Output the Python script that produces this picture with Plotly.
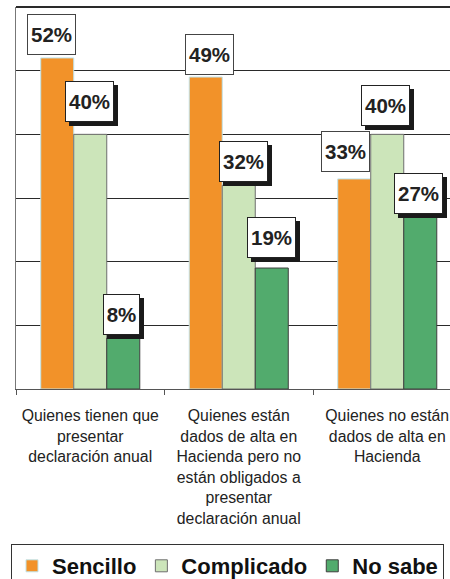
import plotly.graph_objects as go

categories = [
    "Quienes tienen que<br>presentar<br>declaración anual",
    "Quienes están<br>dados de alta en<br>Hacienda pero no<br>están obligados a<br>presentar<br>declaración anual",
    "Quienes no están<br>dados de alta en<br>Hacienda",
]
series_names = ["Sencillo", "Complicado", "No sabe"]
sencillo = [52, 49, 33]
complicado = [40, 32, 40]
no_sabe = [8, 19, 27]

colors = ["#F29229", "#CCE5BA", "#52AB6D"]
line_colors = ["#BFE3EA", "#6E6E6E", "#3F3F3F"]
shadow_flags = [False, True, True]
# per-label pixel nudges (dx, gap above bar top)
nudges = [
    [(-5.5, 3), (4, 2), (-8.5, 6.5)],
    [(-0.5, 12), (4.5, 3), (-1.5, 8)],
    [(-1.5, 3), (-0.5, 10), (-1.5, 3.5)],
]

values = [sencillo, complicado, no_sabe]
x_idx = list(range(len(categories)))

fig = go.Figure()
for s, name in enumerate(series_names):
    fig.add_trace(go.Bar(
        x=categories, y=values[s], name=name,
        marker=dict(color=colors[s], line=dict(color=line_colors[s], width=1)),
    ))

bar_w = (1 - 0.333) / 3
lab_font = "Liberation Sans, Arial"
annotations = []
for s in range(3):
    for c in x_idx:
        v = values[s][c]
        txt = f"{v}%"
        w = 12 * len(txt) + 11
        dx, gap = nudges[s][c]
        xpos = c + (s - 1) * bar_w
        common = dict(x=xpos, y=v, xref="x", yref="y", showarrow=False,
                      yanchor="bottom", xanchor="center", width=w, height=39,
                      borderpad=0, borderwidth=1)
        if shadow_flags[s]:
            sh = dict(common)
            sh.update(text=f"<b>{txt}</b>", bgcolor="#1a1a1a", bordercolor="#1a1a1a",
                      xshift=dx + 4, yshift=gap - 4,
                      font=dict(family=lab_font, size=20.5, color="#1a1a1a"))
            annotations.append(sh)
        bx = dict(common)
        bx.update(text=f"<b>{txt}</b>", bgcolor="white",
                  bordercolor="#222222" if shadow_flags[s] else "#444444",
                  xshift=dx, yshift=gap,
                  font=dict(family=lab_font, size=20.5, color="#222222"))
        annotations.append(bx)

plot_w = 450 - 16
cat_px = 148.5
fig.update_layout(
    width=450, height=579,
    margin=dict(l=16, r=0, t=7, b=190),
    paper_bgcolor="white", plot_bgcolor="white",
    barmode="group", bargap=0.333, bargroupgap=0,
    font=dict(family=lab_font, color="#222222"),
    annotations=annotations,
    shapes=[dict(type="line", xref="paper", yref="paper", x0=0, x1=1, y0=1, y1=1,
                 line=dict(color="#2a2a2a", width=2), layer="above")],
    showlegend=True,
    legend=dict(
        orientation="h", xref="container", yref="container",
        x=11 / 450, xanchor="left", y=1 - 544 / 579, yanchor="top",
        bordercolor="#333333", borderwidth=1, bgcolor="white",
        font=dict(family=lab_font, size=22, color="#111111", weight="bold"),
        itemwidth=30, tracegroupgap=0,
    ),
    xaxis=dict(
        type="category", range=[-0.5, -0.5 + plot_w / cat_px],
        showline=True, linecolor="#555555", linewidth=1,
        ticks="outside", tickson="boundaries", ticklen=5, tickcolor="#555555",
        tickfont=dict(size=15.8, color="#222222"), ticklabelstandoff=12,
        showgrid=False, fixedrange=True, automargin=False,
    ),
    yaxis=dict(
        range=[0, 60], dtick=10, showticklabels=False,
        showgrid=True, gridcolor="#2a2a2a", gridwidth=1.3,
        showline=True, linecolor="#777777", linewidth=1,
        zeroline=False, ticks="", automargin=False, fixedrange=True,
    ),
)

fig.write_html("out.html", config={"displayModeBar": False},
               post_script="document.body.style.margin='0px';document.body.style.overflow='hidden';")
